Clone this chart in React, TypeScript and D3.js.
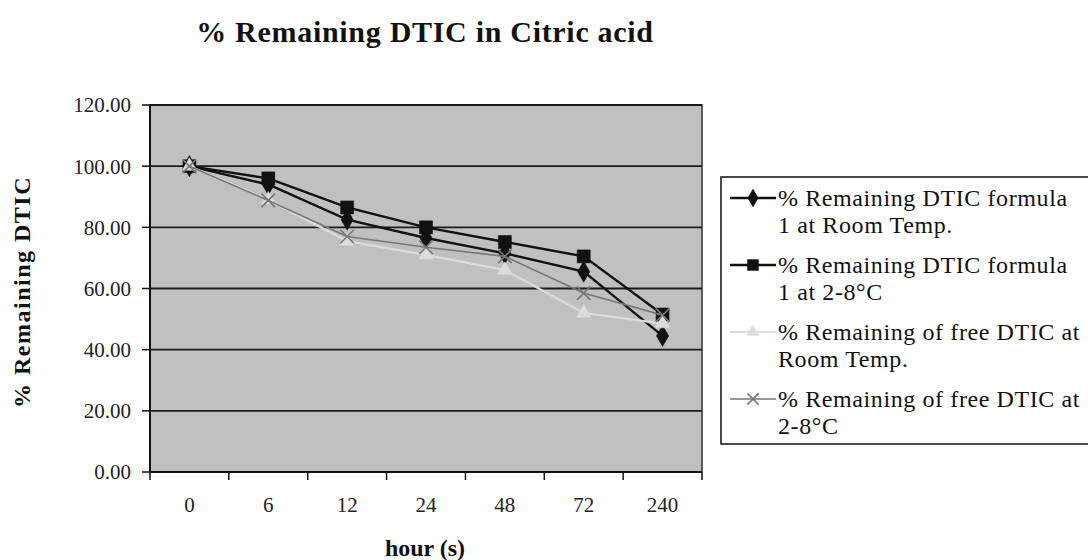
import React from 'react';
import * as d3 from 'd3';

const hours = ['0', '6', '12', '24', '48', '72', '240'];
const yTicks = [0, 20, 40, 60, 80, 100, 120];
const formulaRoom = [100, 94, 82.5, 76.5, 71.5, 65.5, 44.5];
const formulaCold = [100, 96, 86.5, 80, 75.2, 70.5, 51.5];
const freeRoom = [100, 89, 75.5, 71, 66, 52, 48.5];
const freeCold = [100, 88.8, 77, 73.5, 70.5, 58.5, 51.3];

const legendLabels = [
  ['% Remaining DTIC formula', '1 at Room Temp.'],
  ['% Remaining DTIC formula', '1 at 2-8°C'],
  ['% Remaining of free DTIC at', 'Room Temp.'],
  ['% Remaining of free DTIC at', '2-8°C'],
];

const W = 1088;
const H = 560;
const plot = { left: 150, right: 702, top: 105, bottom: 472 };
const font = '"Liberation Serif", "Times New Roman", serif';

const series = [
  { values: formulaRoom, color: '#111', width: 2.4, symbol: d3.symbolDiamond, size: 130, stroke: false },
  { values: formulaCold, color: '#111', width: 2.4, symbol: d3.symbolSquare, size: 170, stroke: false },
  { values: freeRoom, color: '#dcdcdc', width: 2.2, symbol: d3.symbolTriangle, size: 90, stroke: false },
  { values: freeCold, color: '#777', width: 1.6, symbol: d3.symbolX, size: 120, stroke: true },
];

export default function App() {
  const x = d3.scaleBand().domain(hours).range([plot.left, plot.right]).padding(0);
  const y = d3.scaleLinear().domain([0, 120]).range([plot.bottom, plot.top]);
  const cx = (h: string) => (x(h) as number) + x.bandwidth() / 2;

  const line = d3
    .line<number>()
    .x((_, i) => cx(hours[i]))
    .y((d) => y(d));

  const marker = (s: any, px: number, py: number, key: string, scale = 1) => {
    const path = d3.symbol().type(s.symbol).size(s.size * scale)() as string;
    return (
      <path
        key={key}
        d={path}
        transform={`translate(${px},${py})`}
        fill={s.stroke ? 'none' : s.color}
        stroke={s.color}
        strokeWidth={s.stroke ? 1.6 : 0.5}
      />
    );
  };

  const boundaries = hours.map((h) => x(h) as number).concat([plot.right]);

  return (
    <svg
      width={W}
      height={H}
      style={{ position: 'absolute', left: 0, top: 0, background: '#fff' }}
      fontFamily={font}
    >
      <text x={425} y={42} textAnchor="middle" fontSize={30} fontWeight="bold" letterSpacing={0.7} fill="#111">
        % Remaining DTIC in Citric acid
      </text>

      <rect
        x={plot.left}
        y={plot.top}
        width={plot.right - plot.left}
        height={plot.bottom - plot.top}
        fill="#c0c0c0"
        stroke="#333"
        strokeWidth={1.5}
      />

      {yTicks.map((t) => (
        <g key={t}>
          {t > 0 && (
            <line x1={plot.left} x2={plot.right} y1={y(t)} y2={y(t)} stroke="#1a1a1a" strokeWidth={1.8} />
          )}
          <line x1={plot.left - 8} x2={plot.left} y1={y(t)} y2={y(t)} stroke="#111" strokeWidth={1.5} />
          <text x={131} y={y(t)} dy="0.35em" textAnchor="end" fontSize={21} fill="#222">
            {t.toFixed(2)}
          </text>
        </g>
      ))}

      <line x1={plot.left} x2={plot.left} y1={plot.top} y2={plot.bottom} stroke="#111" strokeWidth={2} />
      <line x1={plot.left} x2={plot.right} y1={plot.bottom} y2={plot.bottom} stroke="#111" strokeWidth={2} />

      {boundaries.map((b, i) => (
        <line key={i} x1={b} x2={b} y1={plot.bottom} y2={plot.bottom + 8} stroke="#111" strokeWidth={1.5} />
      ))}
      {hours.map((h) => (
        <text key={h} x={cx(h)} y={512} textAnchor="middle" fontSize={21} fill="#222">
          {h}
        </text>
      ))}

      {series.map((s, si) => (
        <g key={si}>
          <path d={line(s.values) as string} fill="none" stroke={s.color} strokeWidth={s.width} />
          {s.values.map((v, i) => marker(s, cx(hours[i]), y(v), `${si}-${i}`))}
        </g>
      ))}

      <text x={425} y={556} textAnchor="middle" fontSize={24} fontWeight="bold" fill="#111">
        hour (s)
      </text>
      <text
        transform={`translate(30,292) rotate(-90)`}
        textAnchor="middle"
        fontSize={24}
        fontWeight="bold"
        letterSpacing={1.5}
        fill="#111"
      >
        % Remaining DTIC
      </text>

      <rect x={721} y={177} width={380} height={267} fill="#fff" stroke="#111" strokeWidth={1.5} />
      {series.map((s, i) => {
        const ly = 198 + i * 67;
        return (
          <g key={i}>
            <line x1={730} x2={776} y1={ly} y2={ly} stroke={s.color} strokeWidth={s.width} />
            {marker(s, 753, ly, `lg-${i}`, 0.7)}
            <text x={778} y={ly} dy="0.35em" fontSize={24} letterSpacing={0.6} fill="#111">
              {legendLabels[i][0]}
            </text>
            <text x={778} y={ly + 27} dy="0.35em" fontSize={24} letterSpacing={0.6} fill="#111">
              {legendLabels[i][1]}
            </text>
          </g>
        );
      })}
    </svg>
  );
}
